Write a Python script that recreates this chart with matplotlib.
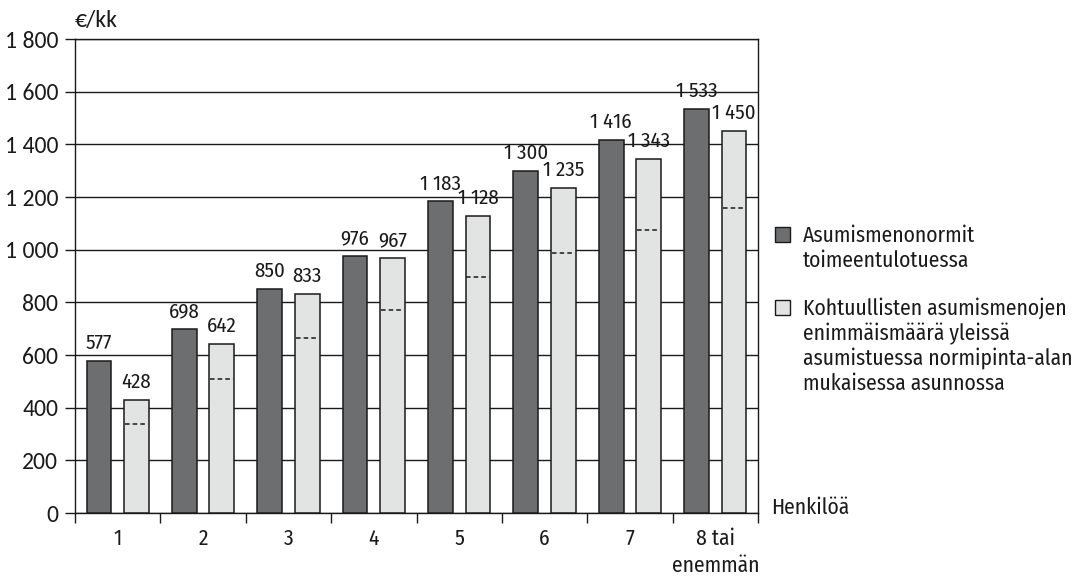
import matplotlib
matplotlib.use("Agg")
import matplotlib.pyplot as plt
import numpy as np
from matplotlib.patches import Rectangle

# Household size categories
categories = ["1", "2", "3", "4", "5", "6", "7", "8 tai\nenemmän"]
# Housing cost norms in social assistance (€/month)
toimeentulotuki = [577, 698, 850, 976, 1183, 1300, 1416, 1533]
# Maximum reasonable housing costs in general housing allowance (€/month)
asumistuki = [428, 642, 833, 967, 1128, 1235, 1343, 1450]
# Dashed reference level inside the light bars (€/month)
asumistuki_taso = [337, 509, 664, 772, 897, 989, 1073, 1160]

y_ticks = [0, 200, 400, 600, 800, 1000, 1200, 1400, 1600, 1800]

legend_labels = [
    ["Asumismenonormit", "toimeentulotuessa"],
    ["Kohtuullisten asumismenojen", "enimmäismäärä yleissä",
     "asumistuessa normipinta-alan", "mukaisessa asunnossa"],
]


def fmt(v):
    return f"{v:,}".replace(",", " ")


TXT = ["Fira Sans Condensed", "DejaVu Sans"]
NUM = ["Carlito", "DejaVu Sans"]
INK = "#1a1a1a"
dark = "#6d6e70"
light = "#e2e3e3"

W, H = 1077, 579
fig = plt.figure(figsize=(W / 100, H / 100), dpi=100)
ax = fig.add_axes([75 / W, 1 - 513 / H, 683 / W, 474 / H])

x = np.arange(len(categories))
w = 0.29
off = 0.22
ax.bar(x - off, toimeentulotuki, width=w, color=dark, edgecolor=INK,
       linewidth=1.1, zorder=3)
ax.bar(x + off, asumistuki, width=w, color=light, edgecolor=INK,
       linewidth=1.1, zorder=3)

for xi, lvl in zip(x, asumistuki_taso):
    ax.plot([xi + off - w / 2 + 0.01, xi + off + w / 2 - 0.01], [lvl, lvl],
            color=INK, linestyle=(0, (3, 2)), linewidth=1.1, zorder=4)

for xi, v in zip(x, toimeentulotuki):
    ax.text(xi - off, v + 45, fmt(v), ha="center", va="baseline",
            fontsize=15, family=TXT, color=INK, zorder=5)
for xi, v in zip(x, asumistuki):
    ax.text(xi + off, v + 45, fmt(v), ha="center", va="baseline",
            fontsize=15, family=TXT, color=INK, zorder=5)

ax.set_xlim(-0.5, len(categories) - 0.5)
ax.set_ylim(0, 1800)
ax.set_yticks(y_ticks)
ax.set_yticklabels([fmt(t) for t in y_ticks], fontsize=17, family=NUM, color=INK)
ax.yaxis.grid(True, color=INK, linewidth=1.0, zorder=0)
ax.set_axisbelow(True)

ax.set_xticks(np.arange(len(categories) + 1) - 0.5)
ax.set_xticklabels([])
ax.set_xticks(x, minor=True)
ax.set_xticklabels(categories, minor=True, fontsize=15.5, family=TXT,
                   linespacing=1.3, va="top", color=INK)
ax.tick_params(axis="x", which="major", length=7, width=1.0, direction="out",
               color=INK)
ax.tick_params(axis="x", which="minor", length=0, pad=11)
ax.tick_params(axis="y", length=7, width=1.0, direction="out", pad=5, color=INK)

for s in ax.spines.values():
    s.set_color(INK)
    s.set_linewidth(1.0)

fig.text(75 / W, 1 - 27 / H, "€/kk", fontsize=17, family=NUM, color=INK,
         ha="left", va="baseline")
fig.text(771 / W, 1 - 514 / H, "Henkilöä", fontsize=15.5, family=TXT, color=INK,
         ha="left", va="baseline")

# Legend drawn as figure patches and text lines
box_tops = [227, 300]
first_baselines = [242, 315]
for color, top, base, lines in zip([dark, light], box_tops, first_baselines,
                                   legend_labels):
    fig.add_artist(Rectangle((775 / W, 1 - (top + 15) / H), 15 / W, 15 / H,
                             transform=fig.transFigure, facecolor=color,
                             edgecolor=INK, linewidth=1.0))
    for i, line in enumerate(lines):
        fig.text(803 / W, 1 - (base + 25 * i) / H, line, fontsize=15.5,
                 family=TXT, color=INK, ha="left", va="baseline")

fig.savefig("out.png", dpi=100)
